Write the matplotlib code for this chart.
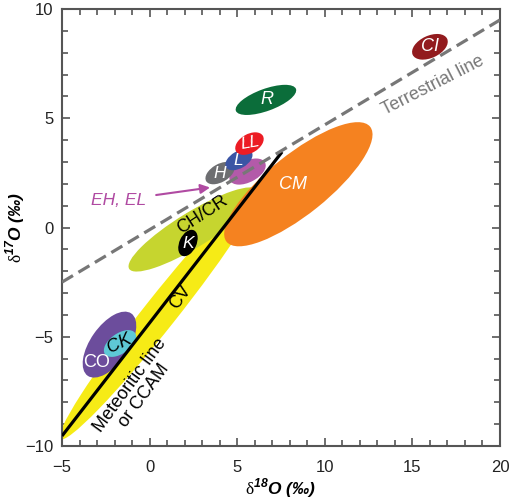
import numpy as np
import matplotlib
matplotlib.use('Agg')
import matplotlib.pyplot as plt
from matplotlib.patches import Ellipse
from matplotlib.transforms import Affine2D

plt.rcParams['font.family'] = ['Liberation Sans', 'DejaVu Sans']
plt.rcParams['mathtext.fontset'] = 'custom'
plt.rcParams['mathtext.rm'] = 'Liberation Serif'
plt.rcParams['mathtext.bf'] = 'Liberation Sans:bold:italic'

# meteorite groups: centre (d18O, d17O), length / width (d18O units on screen), tilt in degrees
groups = ['CV', 'CH/CR', 'K', 'CM', 'CO', 'CK', 'CI', 'R', 'EH, EL', 'H', 'L', 'LL']
cx = [0.65, 2.5, 2.19, 8.49, -2.29, -1.69, 16.0, 6.64, 5.59, 4.02, 5.1, 5.7]
cy = [-3.87, -0.09, -0.71, 1.98, -5.36, -5.31, 8.27, 5.84, 2.56, 2.49, 3.1, 3.84]
length = [18.5, 8.6, 1.6, 10.5, 4.34, 2.1, 2.17, 3.65, 2.25, 1.83, 1.7, 1.77]
width = [1.85, 2.0, 0.97, 3.42, 2.17, 1.15, 1.26, 1.26, 1.22, 1.03, 0.97, 1.08]
tilt = [51.6, 31.5, 65, 38.7, 55, 35, 25, 20, 27, 30, 30, 30]
colors = ['#f6eb16', '#c6d52f', '#000000', '#f58220', '#6c4d9c', '#5ec9d6',
          '#921b1e', '#0b6d3a', '#b35aa9', '#6d6e71', '#3b55a5', '#ec1c24']

# reference lines
tfl_x = [-5, 20]
tfl_y = [-2.5, 9.5]
ccam_x = [-5, 7.56]
ccam_y = [-9.54, 3.46]

fig = plt.figure(figsize=(5.09, 5.01), dpi=100)
ax = fig.add_axes([62/509, 1-446/501, 438/509, 437/501])
ax.set_xlim(-5, 20)
ax.set_ylim(-10, 10)

# screen aspect: pixels per unit x over pixels per unit y
r = (438/25) / (437/20)
to_data = Affine2D().scale(1, r) + ax.transData

for i in range(len(groups)):
    e = Ellipse((cx[i], cy[i]/r), length[i], width[i], angle=tilt[i],
                facecolor=colors[i], edgecolor='none', transform=to_data, zorder=2)
    ax.add_patch(e)

ax.plot(ccam_x, ccam_y, color='black', lw=2.3, zorder=3, solid_capstyle='butt')
ax.plot(tfl_x, tfl_y, color='#777777', lw=2.3, ls=(0, (4, 2)), zorder=4)

# labels on the ellipses
it = dict(style='italic', ha='center', va='center', zorder=5)
ax.text(16.0, 8.27, 'CI', color='white', fontsize=13, **it)
ax.text(6.7, 5.84, 'R', color='white', fontsize=13, **it)
ax.text(5.75, 3.87, 'LL', color='white', fontsize=12.5, rotation=10, **it)
ax.text(5.05, 3.05, 'L', color='white', fontsize=12.5, **it)
ax.text(4.0, 2.45, 'H', color='white', fontsize=12.5, **it)
ax.text(8.2, 1.95, 'CM', color='white', fontsize=13, **it)
ax.text(2.2, -0.75, 'K', color='white', fontsize=12.5, **it)
ax.text(-3.0, -6.2, 'CO', color='white', fontsize=13, ha='center', va='center', zorder=5)
ax.text(-1.75, -5.3, 'CK', color='black', fontsize=13, rotation=25, **it)
ax.text(3.0, 0.6, 'CH/CR', color='black', fontsize=13, rotation=33,
        ha='center', va='center', zorder=5)
ax.text(1.75, -3.2, 'CV', color='black', fontsize=13, rotation=55,
        ha='center', va='center', zorder=5)
ax.text(-0.7, -7.45, 'Meteoritic line\nor CCAM', color='black', fontsize=13, rotation=54,
        ha='center', va='center', linespacing=1.0, zorder=5)
ax.text(16.2, 6.5, 'Terrestrial line', color='#777777', fontsize=13, rotation=27,
        ha='center', va='center', zorder=5)
ax.annotate('EH, EL', xy=(3.45, 1.83), xytext=(-1.75, 1.25), color='#b04aa2',
            fontsize=12.5, style='italic', ha='center', va='center', zorder=5,
            arrowprops=dict(arrowstyle='-|>', color='#b04aa2', lw=1.5,
                            mutation_scale=14, shrinkA=5, shrinkB=0))

ax.set_xticks(np.arange(-5, 21, 5))
ax.set_yticks(np.arange(-10, 11, 5))
ax.set_xticks(np.arange(-5, 21, 1), minor=True)
ax.set_yticks(np.arange(-10, 11, 1), minor=True)
ax.tick_params(which='both', direction='in', top=True, right=True, color='#555555',
               width=1.2, labelsize=12, labelcolor='#222222')
ax.tick_params(which='major', length=6)
ax.tick_params(which='minor', length=4)
ax.tick_params(axis='x', pad=10)
ax.tick_params(axis='y', pad=6)
for s in ax.spines.values():
    s.set_color('#555555')
    s.set_linewidth(1.5)

ax.set_xlabel(r'$\mathrm{\delta}^{\mathbf{18}}$O (‰)', fontsize=12.5, fontweight='bold',
              style='italic', labelpad=1)
ax.set_ylabel(r'$\mathrm{\delta}^{\mathbf{17}}$O (‰)', fontsize=12.5, fontweight='bold',
              style='italic')
ax.yaxis.set_label_coords(-0.08, 0.5)

fig.savefig('out.png', dpi=100)
